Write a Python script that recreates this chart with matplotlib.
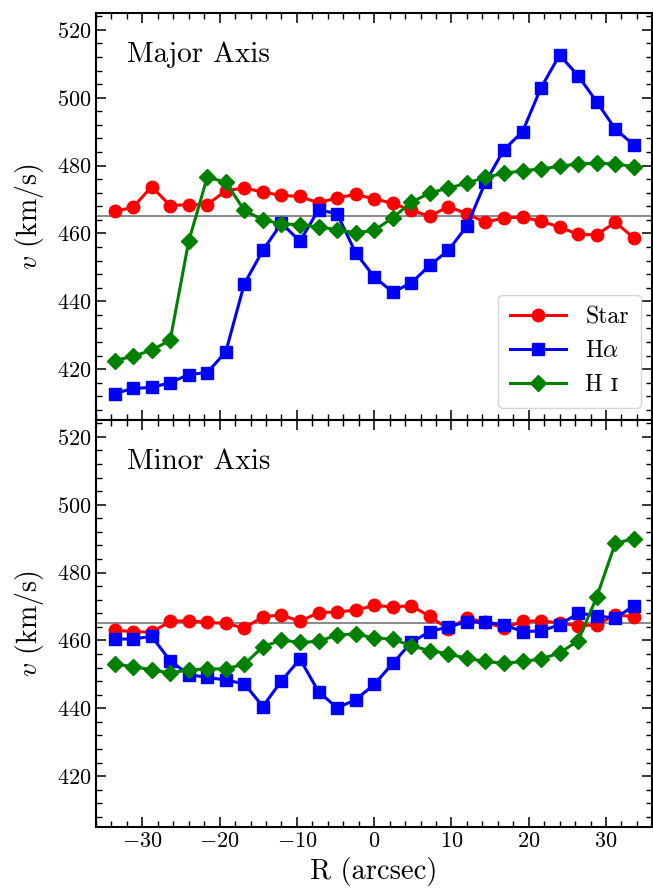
import numpy as np
import matplotlib
matplotlib.use("Agg")
import matplotlib.pyplot as plt
from matplotlib.ticker import MultipleLocator

plt.rcParams['font.family'] = ['cmr10', 'DejaVu Serif']
plt.rcParams['mathtext.fontset'] = 'cm'
plt.rcParams['axes.formatter.use_mathtext'] = True

# radius along the slit (arcsec)
R = 2.4 * np.arange(-14, 15)

# major axis velocities (km/s)
star_major = [466.5, 467.7, 473.8, 468.2, 468.5, 468.5, 472.6, 473.4, 472.2, 471.2,
              470.9, 469.0, 470.5, 471.5, 470.2, 468.9, 466.8, 465.1, 467.9, 465.8,
              463.3, 464.6, 464.8, 463.6, 461.9, 459.7, 459.6, 463.3, 458.7]
ha_major = [412.8, 414.3, 414.6, 416.0, 418.4, 419.0, 425.1, 445.2, 455.0, 463.0,
            457.7, 467.0, 465.8, 454.3, 447.2, 442.7, 445.4, 450.6, 455.0, 462.2,
            475.1, 484.7, 490.0, 503.0, 512.6, 506.5, 498.8, 490.8, 486.1]
hi_major = [422.5, 423.8, 425.6, 428.5, 457.7, 476.6, 475.1, 466.8, 464.0, 462.8,
            462.6, 461.9, 461.1, 460.2, 460.9, 464.6, 469.2, 471.9, 473.4, 474.8,
            476.6, 477.7, 478.5, 479.0, 479.8, 480.5, 480.7, 480.5, 479.7]

# minor axis velocities (km/s)
star_minor = [463.0, 462.6, 462.4, 465.6, 465.8, 465.3, 465.0, 463.6, 467.0, 467.5,
              465.6, 468.2, 468.4, 468.9, 470.3, 469.9, 470.2, 467.1, 463.3, 466.6,
              465.3, 463.6, 465.6, 465.8, 465.1, 464.3, 464.6, 467.5, 467.0]
ha_minor = [460.4, 460.4, 461.2, 454.0, 449.9, 449.1, 448.3, 447.2, 440.5, 448.1,
            454.5, 444.9, 440.1, 442.5, 447.0, 453.2, 459.4, 462.6, 464.0, 465.5,
            465.3, 464.6, 462.6, 462.8, 464.6, 468.0, 467.3, 466.5, 470.2]
hi_minor = [453.0, 452.3, 451.3, 450.4, 451.3, 451.6, 451.6, 453.0, 458.1, 460.1,
            459.4, 459.7, 461.6, 461.9, 460.7, 460.4, 458.4, 457.0, 456.0, 454.7,
            453.8, 453.2, 453.8, 454.5, 456.3, 459.9, 472.8, 488.6, 490.0]

v_sys = 465

fig = plt.figure(figsize=(6.53, 8.94), dpi=100)
ax1 = fig.add_axes([0.147, 0.5302, 0.852, 0.4553])
ax2 = fig.add_axes([0.147, 0.0750, 0.852, 0.4553], sharex=ax1)

panels = [(ax1, star_major, ha_major, hi_major, 'Major Axis'),
          (ax2, star_minor, ha_minor, hi_minor, 'Minor Axis')]

for ax, st, ha, hi, title in panels:
    ax.axhline(v_sys, color='gray', lw=1.3, zorder=1)
    ax.plot(R, st, '-o', color='red', lw=2.2, ms=9, label='Star')
    ax.plot(R, ha, '-s', color='blue', lw=2.2, ms=8.5, label=r'H$\alpha$')
    ax.plot(R, hi, '-D', color='green', lw=2.2, ms=8, label='H ɪ')
    ax.set_xlim(-36, 36)
    ax.set_ylim(405, 525)
    ax.yaxis.set_major_locator(MultipleLocator(20))
    ax.yaxis.set_minor_locator(MultipleLocator(4))
    ax.xaxis.set_major_locator(MultipleLocator(10))
    ax.xaxis.set_minor_locator(MultipleLocator(2))
    ax.tick_params(which='both', direction='in', top=True, right=True, labelsize=16)
    ax.tick_params(which='major', length=7, width=1.1)
    ax.tick_params(which='minor', length=4, width=1.0)
    ax.set_ylabel(r'$v$ (km/s)', fontsize=20, labelpad=8)
    ax.text(0.055, 0.93, title, transform=ax.transAxes, fontsize=21, va='top')
    for s in ax.spines.values():
        s.set_linewidth(1.5)

plt.setp(ax1.get_xticklabels(), visible=False)
ax2.set_xlabel('R (arcsec)', fontsize=20.5)

ax1.legend(loc='lower right', fontsize=17, handlelength=2.4, borderpad=0.5,
           labelspacing=0.5, framealpha=0.8)

fig.savefig('out.png', dpi=100)
